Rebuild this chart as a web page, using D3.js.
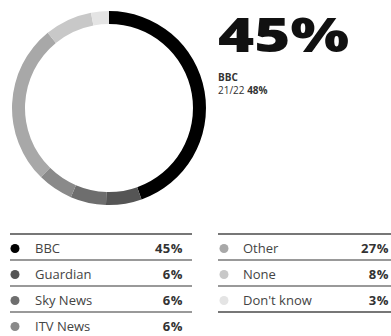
<!DOCTYPE html>
<html>
<head>
<meta charset="utf-8">
<script src="https://cdn.jsdelivr.net/npm/d3@7"></script>
<style>
  body { margin: 0; background: #fff; }
  svg text { font-family: "Open Sans", "Noto Sans", sans-serif; }
</style>
</head>
<body>
<svg id="chart" width="391" height="336"></svg>
<script>
var labels = ['BBC', 'Guardian', 'Sky News', 'ITV News', 'Other', 'None', "Don't know"];
var values = [45, 6, 6, 6, 27, 8, 3];
var colors = ['#000000', '#555555', '#6e6e6e', '#8a8a8a', '#a8a8a8', '#c8c8c8', '#e4e4e4'];
var headline = '45%';
var headName = 'BBC';
var prevLabel = '21/22';
var prevValue = '48%';

var svg = d3.select('#chart');

var data = labels.map(function(l, i){ return {label: l, value: values[i], color: colors[i]}; });

// donut
var pie = d3.pie().sort(null).value(function(d){ return d.value; });
var arc = d3.arc().innerRadius(84).outerRadius(97);

svg.append('g')
    .attr('transform', 'translate(109,108)')
    .selectAll('path')
    .data(pie(data))
    .enter()
    .append('path')
    .attr('d', arc)
    .attr('fill', function(d){ return d.data.color; });

// headline, stretched to the reference width
svg.append('text')
    .attr('x', 218).attr('y', 52)
    .attr('textLength', 131)
    .attr('lengthAdjust', 'spacingAndGlyphs')
    .style('font-size', '48px').style('font-weight', 800)
    .style('fill', '#111')
    .text(headline);

svg.append('text')
    .attr('x', 218).attr('y', 81)
    .style('font-size', '10px').style('font-weight', 700)
    .style('fill', '#333')
    .text(headName);

var prev = svg.append('text')
    .attr('x', 218).attr('y', 94)
    .style('font-size', '10px')
    .style('fill', '#333');
prev.append('tspan').text(prevLabel + ' ');
prev.append('tspan').style('font-weight', 700).text(prevValue);

// legend, two columns
var columns = [
    {items: data.slice(0, 4), x0: 10, x1: 192, dotX: 15, textX: 35, valX: 183, bottomLine: false},
    {items: data.slice(4), x0: 218, x1: 391, dotX: 224, textX: 243, valX: 389, bottomLine: true}
];

var rowY = d3.scaleLinear().domain([0, 1]).range([234, 260]);

columns.forEach(function(col){
    var g = svg.append('g');
    var n = col.items.length;
    var lineCount = col.bottomLine ? n + 1 : n;
    d3.range(lineCount).forEach(function(i){
        g.append('line')
            .attr('x1', col.x0).attr('x2', col.x1)
            .attr('y1', rowY(i)).attr('y2', rowY(i))
            .attr('stroke', '#777')
            .attr('stroke-width', (i === 0 || i === n) ? 2.2 : 1.6);
    });

    var rows = g.selectAll('g.row')
        .data(col.items)
        .enter()
        .append('g')
        .attr('transform', function(d, i){ return 'translate(0,' + (rowY(i) + 14.5) + ')'; });

    rows.append('circle')
        .attr('cx', col.dotX).attr('cy', 0).attr('r', 4.5)
        .attr('fill', function(d){ return d.color; });

    rows.append('text')
        .attr('x', col.textX).attr('y', 4.5)
        .style('font-size', '13px')
        .style('fill', '#444')
        .text(function(d){ return d.label; });

    rows.append('text')
        .attr('x', col.valX).attr('y', 4.5)
        .attr('text-anchor', 'end')
        .style('font-size', '13px').style('font-weight', 700)
        .style('letter-spacing', '0.5px')
        .style('fill', '#333')
        .text(function(d){ return d.value + '%'; });
});
</script>
</body>
</html>
